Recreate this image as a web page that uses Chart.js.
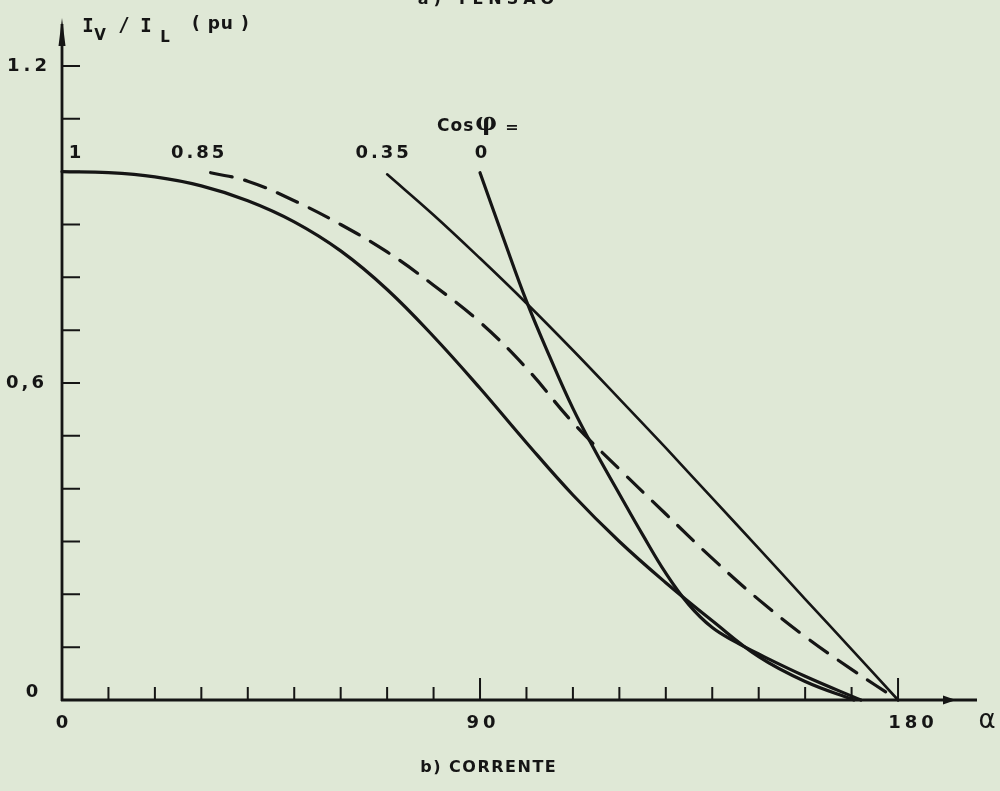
<!DOCTYPE html>
<html>
<head>
<meta charset="utf-8">
<script src="https://cdn.jsdelivr.net/npm/chart.js@4.4.1/dist/chart.umd.min.js"></script>
<style>
    html, body { margin: 0; padding: 0; background: #dfe8d6; }
    #wrap { width: 1000px; height: 791px; position: relative; }
</style>
</head>
<body>
<div id="wrap"><canvas id="chart"></canvas></div>
<script>
// alpha (degrees) and Iv/IL (pu), one pair of arrays per cos phi
const alphaCos1 = [0, 10, 20, 30, 40, 50, 60, 70, 80, 90, 100, 110, 120, 130, 140, 150, 160, 170.5];
const ivCos1 = [1.0, 0.998, 0.99, 0.973, 0.945, 0.905, 0.85, 0.777, 0.688, 0.59, 0.487, 0.388, 0.300, 0.222, 0.150, 0.082, 0.035, 0];

const alphaCos085 = [32, 40, 50, 60, 70, 80, 90, 100, 110, 120, 130, 140, 150, 160, 170, 180];
const ivCos085 = [0.998, 0.982, 0.945, 0.90, 0.848, 0.785, 0.715, 0.628, 0.525, 0.437, 0.352, 0.268, 0.19, 0.12, 0.058, 0];

const alphaCos035 = [70, 80, 90, 100, 110, 120, 130, 140, 150, 160, 170, 180];
const ivCos035 = [0.995, 0.918, 0.836, 0.751, 0.662, 0.570, 0.477, 0.382, 0.287, 0.191, 0.096, 0];

const alphaCos0 = [90, 95, 100, 105, 110, 115, 120, 125, 130, 135, 140, 145, 150, 160, 172];
const ivCos0 = [0.998, 0.875, 0.755, 0.65, 0.552, 0.468, 0.390, 0.313, 0.240, 0.180, 0.137, 0.110, 0.087, 0.045, 0];

const curveNames = ['1', '0.85', '0.35', '0'];

const xTicks = [10, 20, 30, 40, 50, 60, 70, 80, 90, 100, 110, 120, 130, 140, 150, 160, 170, 180];
const xMajorTicks = [90, 180];
const xTickLabels = ['0', '90', '180'];
const yTicks = [0.1, 0.2, 0.3, 0.4, 0.5, 0.6, 0.7, 0.8, 0.9, 1.0, 1.1, 1.2];
const yTickLabels = ['0', '0,6', '1.2'];

const ink = '#151515';

function toPoints(xs, ys) {
    return xs.map(function (x, i) { return { x: x, y: ys[i] }; });
}

function spaced(ctx, text, x, y, spacing, align) {
    ctx.letterSpacing = spacing + 'px';
    var w = ctx.measureText(text).width - spacing;
    var left = align === 'left' ? x : (align === 'right' ? x - w : x - w / 2);
    ctx.textAlign = 'left';
    ctx.fillText(text, left, y);
    ctx.letterSpacing = '0px';
}

const paperPlugin = {
    id: 'paper',
    beforeDraw(chart) {
        var ctx = chart.ctx;
        ctx.save();
        ctx.fillStyle = '#dfe8d6';
        ctx.fillRect(0, 0, chart.width, chart.height);
        ctx.restore();
    },
    afterDatasetsDraw(chart) {
        var ctx = chart.ctx;
        var xs = chart.scales.x;
        var ys = chart.scales.y;
        var area = chart.chartArea;
        var x0 = xs.getPixelForValue(0);
        var y0 = ys.getPixelForValue(0);

        ctx.save();
        ctx.strokeStyle = ink;
        ctx.fillStyle = ink;
        ctx.lineWidth = 2.8;

        // axes
        ctx.beginPath();
        ctx.moveTo(x0, y0 + 1);
        ctx.lineTo(x0, area.top + 4);
        ctx.moveTo(x0 - 1, y0);
        ctx.lineTo(area.right, y0);
        ctx.stroke();

        // arrow heads
        ctx.beginPath();
        ctx.moveTo(x0, area.top - 2);
        ctx.lineTo(x0 - 3.5, area.top + 26);
        ctx.lineTo(x0 + 3.5, area.top + 26);
        ctx.closePath();
        ctx.fill();
        ctx.beginPath();
        ctx.moveTo(area.right - 21, y0);
        ctx.lineTo(area.right - 34, y0 - 4.5);
        ctx.lineTo(area.right - 34, y0 + 4.5);
        ctx.closePath();
        ctx.fill();

        // ticks
        ctx.lineWidth = 2;
        ctx.beginPath();
        xTicks.forEach(function (v) {
            var px = xs.getPixelForValue(v);
            var len = xMajorTicks.indexOf(v) >= 0 ? 22 : 13;
            ctx.moveTo(px, y0);
            ctx.lineTo(px, y0 - len);
        });
        yTicks.forEach(function (v) {
            var py = ys.getPixelForValue(v);
            ctx.moveTo(x0, py);
            ctx.lineTo(x0 + 18, py);
        });
        ctx.stroke();

        // tick labels
        ctx.textBaseline = 'middle';
        ctx.font = 'bold 18px "DejaVu Sans"';
        var xLabelDx = [0, 1, 13];
        xTickLabels.forEach(function (t, i) {
            spaced(ctx, t, xs.getPixelForValue(Number(t)) + xLabelDx[i], y0 + 23, 4, 'center');
        });
        spaced(ctx, '0', 32, y0 - 8, 0, 'center');
        spaced(ctx, yTickLabels[1], 25, ys.getPixelForValue(0.6), 3, 'center');
        spaced(ctx, yTickLabels[2], 27, ys.getPixelForValue(1.2), 4, 'center');

        ctx.font = '26px "DejaVu Sans"';
        ctx.textAlign = 'center';
        ctx.fillText('α', 987, y0 + 21);

        // curve labels above each curve start
        var starts = chart.data.datasets.map(function (d) { return d.data[0]; });
        var labelDx = [13, -13, -5, 1];
        ctx.font = 'bold 18px "DejaVu Sans"';
        curveNames.forEach(function (name, i) {
            var px = xs.getPixelForValue(starts[i].x) + labelDx[i];
            spaced(ctx, name, px, 153, 3, 'center');
        });
        ctx.font = 'bold 17px "DejaVu Sans"';
        spaced(ctx, 'Cos', 437, 127, 1, 'left');
        ctx.font = 'bold 24px "DejaVu Serif"';
        spaced(ctx, 'φ', 486, 124, 0, 'center');
        ctx.font = 'bold 16px "DejaVu Sans"';
        spaced(ctx, '=', 512, 128, 0, 'center');

        // axis title Iv / IL (pu)
        ctx.font = 'bold 19px "DejaVu Sans Mono"';
        spaced(ctx, 'I', 88, 27, 0, 'center');
        spaced(ctx, '/', 124, 26, 0, 'center');
        spaced(ctx, 'I', 146, 27, 0, 'center');
        ctx.font = 'bold 15px "DejaVu Sans"';
        spaced(ctx, 'V', 100, 36, 0, 'center');
        spaced(ctx, 'L', 165, 38, 0, 'center');
        ctx.font = 'bold 17px "DejaVu Sans"';
        spaced(ctx, '( pu )', 192, 25, 1, 'left');

        // captions
        ctx.font = 'bold 16px "DejaVu Sans"';
        spaced(ctx, 'b) CORRENTE', 488, 768, 1.5, 'center');
        spaced(ctx, 'a) TENSÃO', 486, 0, 5, 'center');

        ctx.restore();
    }
};

function lineSet(xs, ys, width, dash) {
    return {
        data: toPoints(xs, ys),
        borderColor: ink,
        borderWidth: width,
        borderDash: dash || [],
        pointRadius: 0,
        fill: false,
        tension: 0.4,
        borderCapStyle: 'round',
        clip: false
    };
}

new Chart(document.getElementById('chart'), {
    type: 'line',
    data: {
        datasets: [
            lineSet(alphaCos1, ivCos1, 3.2),
            lineSet(alphaCos085, ivCos085, 3.2, [22, 13]),
            lineSet(alphaCos035, ivCos035, 2.6),
            lineSet(alphaCos0, ivCos0, 3.2)
        ]
    },
    options: {
        responsive: true,
        maintainAspectRatio: false,
        animation: false,
        layout: { padding: { left: 62, right: 23, top: 20, bottom: 91 } },
        plugins: { legend: { display: false }, tooltip: { enabled: false } },
        scales: {
            x: { type: 'linear', min: 0, max: 197, display: false },
            y: { type: 'linear', min: 0, max: 1.287, display: false }
        }
    },
    plugins: [paperPlugin]
});
</script>
</body>
</html>
